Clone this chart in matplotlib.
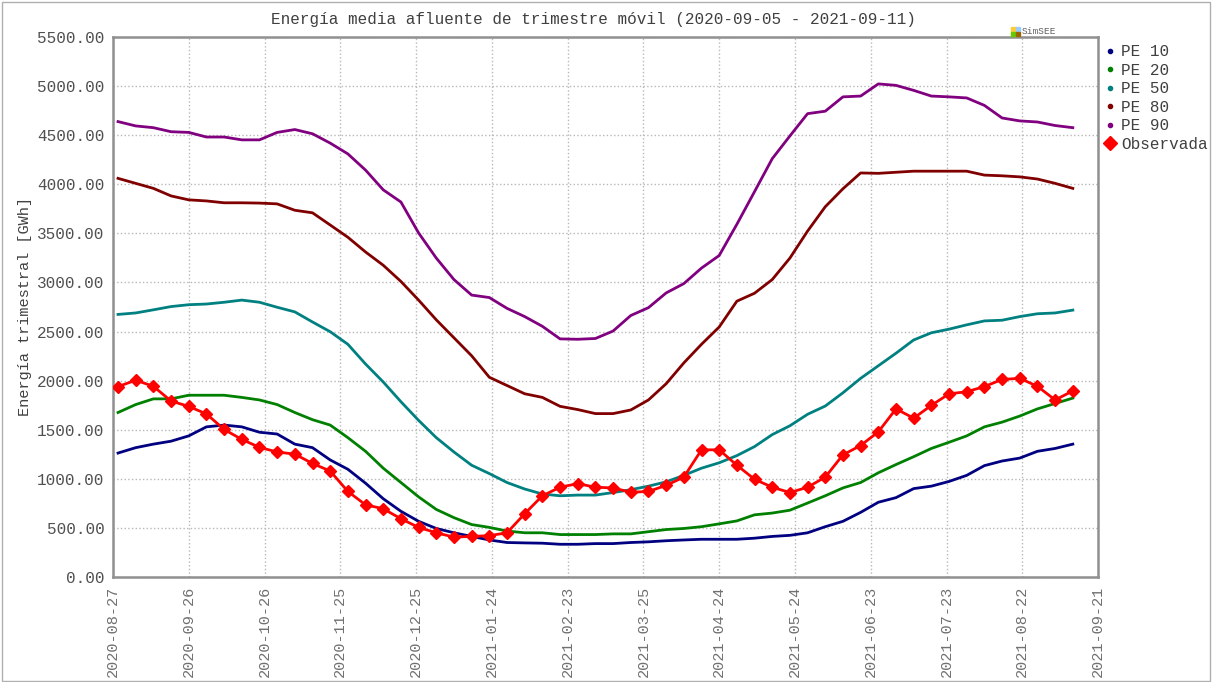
import datetime as dt
import matplotlib
matplotlib.use('Agg')
import matplotlib.pyplot as plt
import matplotlib.dates as mdates
from matplotlib.lines import Line2D
from matplotlib.patches import Rectangle

plt.rcParams['font.family'] = ['Liberation Mono', 'DejaVu Sans Mono']

# weekly points, 2020-08-29 .. 2021-09-11
start = dt.date(2020, 8, 29)
dates = [start + dt.timedelta(days=7 * i) for i in range(55)]

pe10 = [1262, 1317, 1353, 1383, 1437, 1529, 1547, 1529, 1474, 1456, 1353, 1317, 1192, 1097,
        955, 797, 669, 567, 494, 450, 413, 377, 351, 347, 344, 333, 333, 340, 340, 351, 358,
        369, 377, 384, 384, 384, 395, 413, 424, 450, 512, 567, 658, 761, 808, 900, 925, 973,
        1035, 1134, 1181, 1211, 1280, 1309, 1353]
pe20 = [1675, 1756, 1814, 1814, 1851, 1851, 1851, 1829, 1803, 1756, 1675, 1602, 1547, 1419,
        1280, 1108, 962, 816, 688, 604, 534, 505, 468, 450, 450, 432, 432, 432, 439, 439, 461,
        483, 494, 512, 541, 571, 633, 651, 680, 753, 827, 907, 962, 1061, 1145, 1225, 1309,
        1372, 1437, 1529, 1577, 1639, 1712, 1767, 1822]
pe50 = [2674, 2689, 2721, 2754, 2773, 2780, 2798, 2820, 2798, 2747, 2700, 2597, 2498, 2370,
        2169, 1986, 1785, 1595, 1419, 1273, 1138, 1053, 962, 896, 845, 827, 834, 834, 860, 889,
        925, 969, 1035, 1108, 1163, 1236, 1328, 1450, 1540, 1657, 1741, 1876, 2023, 2151, 2279,
        2414, 2487, 2524, 2568, 2608, 2615, 2652, 2681, 2689, 2718]
pe80 = [4060, 4009, 3958, 3881, 3841, 3830, 3811, 3811, 3808, 3800, 3735, 3709, 3585, 3460,
        3310, 3175, 3010, 2820, 2619, 2436, 2253, 2034, 1950, 1866, 1829, 1738, 1705, 1664,
        1664, 1701, 1803, 1968, 2180, 2370, 2546, 2809, 2890, 3029, 3248, 3523, 3771, 3954,
        4115, 4111, 4122, 4133, 4133, 4133, 4133, 4093, 4086, 4075, 4053, 4009, 3958]
pe90 = [4638, 4594, 4576, 4535, 4528, 4481, 4481, 4452, 4452, 4528, 4557, 4514, 4419, 4309,
        4144, 3943, 3819, 3504, 3248, 3029, 2871, 2846, 2736, 2652, 2553, 2425, 2421, 2429,
        2505, 2663, 2743, 2893, 2988, 3146, 3274, 3592, 3925, 4260, 4492, 4719, 4744, 4890,
        4898, 5022, 5007, 4956, 4898, 4890, 4879, 4803, 4675, 4645, 4634, 4598, 4576]
observada = [1939, 2004, 1942, 1792, 1737, 1661, 1503, 1401, 1320, 1273, 1251, 1156, 1079, 871,
             735, 695, 593, 505, 450, 406, 413, 421, 450, 644, 827, 914, 951, 914, 907, 863,
             871, 933, 1017, 1295, 1295, 1138, 995, 914, 860, 914, 1017, 1244, 1339, 1478,
             1712, 1617, 1748, 1865, 1887, 1939, 2012, 2023, 1942, 1803, 1895]

series = [('PE 10', pe10, '#000080'), ('PE 20', pe20, '#008000'), ('PE 50', pe50, '#008080'),
          ('PE 80', pe80, '#800000'), ('PE 90', pe90, '#800080')]

x_ticks = [dt.date(2020, 8, 27) + dt.timedelta(days=30 * k) for k in range(14)]

fig = plt.figure(figsize=(12.12, 6.82), dpi=100)
ax = fig.add_axes([0.0932, 0.154, 0.8128, 0.7918])

for name, vals, col in series:
    ax.plot(dates, vals, color=col, lw=2.0, zorder=3)
ax.plot(dates, observada, color='#ff0000', lw=2.0, marker='D', ms=6.5, zorder=4)

ax.set_xlim(x_ticks[0], x_ticks[-1])
ax.set_ylim(0, 5500)
ax.set_yticks(range(0, 5501, 500))
ax.yaxis.set_major_formatter(matplotlib.ticker.FuncFormatter(lambda v, p: '%.2f' % v))
ax.set_xticks(x_ticks)
ax.xaxis.set_major_formatter(mdates.DateFormatter('%Y-%m-%d'))
plt.setp(ax.get_xticklabels(), rotation=90, fontsize=11, color='#707070')
plt.setp(ax.get_yticklabels(), fontsize=11.5, color='#505050')
ax.tick_params(length=0, pad=6)
ax.grid(True, ls=':', color='#b8b8b8', lw=1.0)
for s in ax.spines.values():
    s.set_color('#909090')
    s.set_linewidth(1.8)

ax.set_ylabel('Energía trimestral [GWh]', fontsize=11, color='#404040', labelpad=4)
fig.text(0.49, 0.971, 'Energía media afluente de trimestre móvil (2020-09-05 - 2021-09-11)',
         ha='center', va='center', fontsize=11.5, color='#404040')

handles = [Line2D([], [], ls='none', marker='o', ms=3, color=c) for _, _, c in series]
handles.append(Line2D([], [], ls='none', marker='D', ms=7, color='#ff0000'))
labels = [n for n, _, _ in series] + ['Observada']
leg = fig.legend(handles, labels, loc='upper left', bbox_to_anchor=(0.909, 0.935), frameon=False,
                 fontsize=11.5, handletextpad=0.2, handlelength=1.0, labelspacing=0.22,
                 borderaxespad=0, borderpad=0)
for t in leg.get_texts():
    t.set_color('#404040')

# SimSEE logo
sq = 4.5 / 1212
sqh = 4.5 / 682
lx, ly = 1011 / 1212, 1 - 36 / 682
for (dx, dy, c) in [(0, 1, '#ffcc33'), (1, 1, '#99ccff'), (0, 0, '#66cc00'), (1, 0, '#996600')]:
    fig.patches.append(Rectangle((lx + dx * sq, ly + dy * sqh), sq, sqh, color=c,
                                 transform=fig.transFigure, figure=fig))
fig.text(1022 / 1212, 1 - 31.5 / 682, 'SimSEE', fontsize=6.8, va='center', color='#606060')

fig.patches.append(Rectangle((0.002, 0.002), 0.996, 0.995, fill=False, ec='#b0b0b0', lw=1,
                             transform=fig.transFigure, figure=fig))

fig.savefig('out.png', dpi=100)
